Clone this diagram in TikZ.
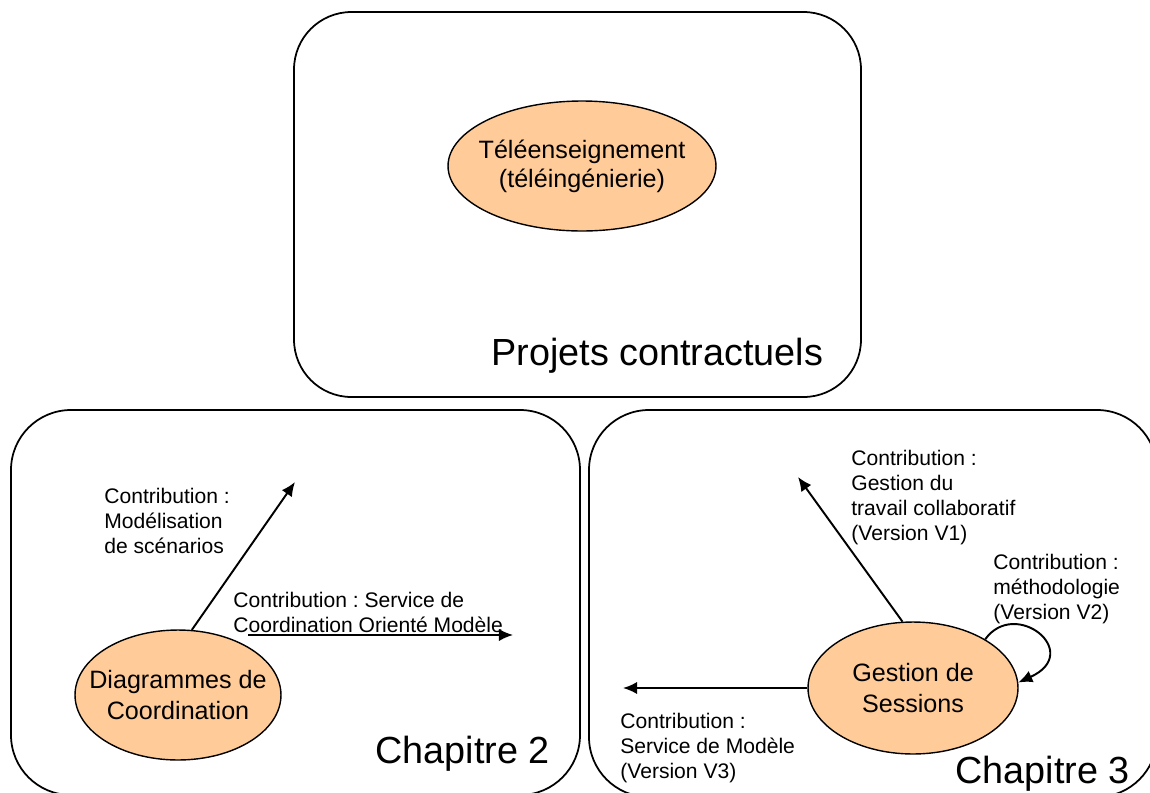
\documentclass[tikz,border=0pt]{standalone}
\usepackage{fontspec}
\setmainfont{Liberation Sans}
\usetikzlibrary{shapes.geometric,arrows.meta}

\definecolor{peche}{RGB}{255,204,153}
\frenchspacing

\begin{document}
\begin{tikzpicture}[x=0.02cm, y=-0.02cm, >={Latex[length=8pt,width=7pt]},
    cadre/.style={line width=1pt, rounded corners=1.2cm},
    bulle/.style={ellipse, draw, line width=0.8pt, fill=peche, inner sep=-1cm,
        align=center, font=\fontsize{14.3}{17.5}\selectfont},
    contrib/.style={anchor=north west, inner sep=0pt, align=left,
        font=\fontsize{12}{14.2}\selectfont},
    titre/.style={anchor=base west, inner sep=0pt, font=\fontsize{21.5}{24}\selectfont},
    fleche/.style={->, line width=1.1pt}]
            \useasboundingbox (0,0) rectangle (1150,792);
            \clip (0,0) rectangle (1150,792);
            % ==== CADRES ====
            \draw[cadre, rounded corners=1.15cm] (294,12) rectangle (861,397);
            \draw[cadre] (11,410) rectangle (580,795);
            \draw[cadre] (589,410) rectangle (1157,797);
            \node[titre] (projets) at (491,365) {Projets contractuels};
            \node[titre] (chap2) at (375,763) {Chapitre 2};
            \node[titre] (chap3) at (955,783) {Chapitre 3};

            % ==== BULLES ====
            \node[bulle, minimum width=5.36cm, minimum height=2.6cm] (tele) at (582,166)
                {\raisebox{-4pt}{\shortstack{T\'el\'eenseignement\\(t\'el\'eing\'enierie)}}};
            \node[bulle, minimum width=4.12cm, minimum height=2.6cm] (diag) at (178,695)
                {Diagrammes de\\Coordination};
            \node[bulle, minimum width=4.2cm, minimum height=2.64cm] (sess) at (913,688)
                {Gestion de\\Sessions};

            % ==== CHAPITRE 2 ====
            \coordinate (cmodel) at (295,482);
            \coordinate (cserv1) at (248,635);
            \coordinate (cserv2) at (513,635);
            \draw[fleche] (diag.78) -- (cmodel);
            \draw[fleche] (cserv1) -- (cserv2);
            \node[contrib] (lmodel) at (104,488) {Contribution :\\Mod\'elisation\\de sc\'enarios};
            \node[contrib] (lserv) at (233,592) {Contribution : Service de\\Coordination Orient\'e Mod\`ele};

            % ==== CHAPITRE 3 ====
            \coordinate (cgest) at (798,477);
            \coordinate (cvtrois) at (623,688);
            \draw[fleche] (sess.99) -- (cgest);
            \draw[fleche] (sess.west) -- (cvtrois);
            \draw[fleche] (sess.34) .. controls +(30,-42) and +(66,-30) .. (sess.3);
            \node[contrib] (lgest) at (851,450) {Contribution :\\Gestion du\\travail collaboratif\\(Version V1)};
            \node[contrib] (lmeth) at (993,554) {Contribution :\\m\'ethodologie\\(Version V2)};
            \node[contrib] (lvtrois) at (620,713) {Contribution :\\Service de Mod\`ele\\(Version V3)};
\end{tikzpicture}
\end{document}
